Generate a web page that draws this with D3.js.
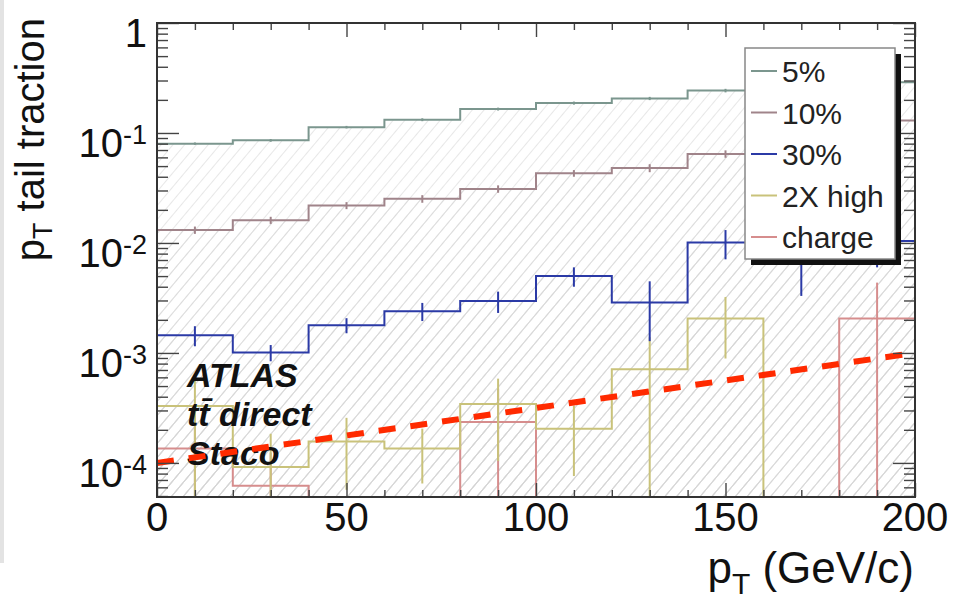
<!DOCTYPE html>
<html>
<head>
<meta charset="utf-8">
<script src="https://cdn.jsdelivr.net/npm/d3@7"></script>
<style>
  body { margin: 0; background: #fff; }
  text { font-family: "Liberation Sans", Arial, Helvetica, sans-serif; }
</style>
</head>
<body>
<div id="chart"></div>
<script>
// ---- data ----
const binEdges = [0, 20, 40, 60, 80, 100, 120, 140, 160, 180, 200]
const binCenters = [10, 30, 50, 70, 90, 110, 130, 150, 170, 190]

const seriesNames = ["5%", "10%", "30%", "2X high", "charge"]
const seriesColors = ["#7b968e", "#a0848a", "#2b3aa6", "#c9c27a", "#d68d8d"]

const pct5 = [0.080, 0.0857, 0.113, 0.132, 0.165, 0.187, 0.206, 0.243, 0.27, 0.29]
const pct5Err = [0.002, 0.0025, 0.003, 0.004, 0.005, 0.006, 0.007, 0.009, 0.011, 0.014]
const pct10 = [0.0131, 0.0161, 0.0219, 0.0252, 0.031, 0.043, 0.048, 0.0645, 0.09, 0.13]
const pct10Err = [0.001, 0.0012, 0.0016, 0.002, 0.0024, 0.003, 0.004, 0.005, 0.007, 0.009]
const pct30 = [0.00145, 0.00101, 0.00179, 0.0024, 0.00296, 0.0050, 0.00288, 0.0101, 0.0100, 0.0104]
const pct30Err = [0.0003, 0.00017, 0.00028, 0.00045, 0.00065, 0.001, 0.0016, 0.003, 0.0067, 0.0044]
const high2x = [0.00033, 0.000092, 0.000157, 0.000135, 0.000344, 0.000204, 0.00071, 0.00206, 0, 0]
const high2xErr = [0.00028, 0.000092, 0.0001, 0.00007, 0.00024, 0.000128, 0.00068, 0.00117, 0, 0]
const charge = [0.000135, 0.000062, 0, 0, 0.000235, 0, 0, 0, 0, 0.00206]
const chargeErr = [0.000135, 0.000062, 0, 0, 0.000235, 0, 0, 0, 0, 0.0023]

const fitLine = [[0, 1e-4], [200, 1e-3]]

const xMajor = [0, 50, 100, 150, 200]
const xMinor = [10, 20, 30, 40, 60, 70, 80, 90, 110, 120, 130, 140, 160, 170, 180, 190]
const yMajor = [1, 1e-1, 1e-2, 1e-3, 1e-4]
const yExponents = ["", "-1", "-2", "-3", "-4"]

const atlasLines = ["ATLAS", "tt\u0304 direct", "Staco"]

// ---- layout ----
const W = 954, H = 605
const frame = {left: 157, right: 915, top: 23, bottom: 497}
const yMin = 4.9e-5

const svg = d3.select("#chart").append("svg")
  .attr("width", W)
  .attr("height", H)

// grey strip of the screenshot at the left edge
svg.append("rect").attr("x", 0).attr("y", 0).attr("width", 4).attr("height", 563).attr("fill", "#e3e3e3")

const x = d3.scaleLinear().domain([0, 200]).range([frame.left, frame.right])
const y = d3.scaleLog().domain([yMin, 1]).range([frame.bottom, frame.top])
const yc = v => y(Math.max(v, yMin))

// hatch pattern
const defs = svg.append("defs")
const pat = defs.append("pattern")
  .attr("id", "hatch")
  .attr("patternUnits", "userSpaceOnUse")
  .attr("width", 9).attr("height", 9)
  .attr("patternTransform", "rotate(40)")
pat.append("line")
  .attr("x1", 0).attr("y1", 0).attr("x2", 0).attr("y2", 9)
  .attr("stroke", "#d2d2d2").attr("stroke-width", 1.1)

const series = [
  {vals: pct5, errs: pct5Err},
  {vals: pct10, errs: pct10Err},
  {vals: pct30, errs: pct30Err},
  {vals: high2x, errs: high2xErr},
  {vals: charge, errs: chargeErr}
].map((s, i) => ({...s, name: seriesNames[i], color: seriesColors[i]}))

const stepPoints = vals => binEdges.map((e, i) => [e, vals[Math.min(i, vals.length - 1)]])

const area = d3.area()
  .curve(d3.curveStepAfter)
  .x(d => x(d[0]))
  .y0(frame.bottom)
  .y1(d => yc(d[1]))

const line = d3.line()
  .curve(d3.curveStepAfter)
  .x(d => x(d[0]))
  .y(d => yc(d[1]))

const plot = svg.append("g")

// hatched fills
plot.selectAll("path.fill")
  .data(series)
  .enter().append("path")
  .attr("class", "fill")
  .attr("d", d => area(stepPoints(d.vals)))
  .attr("fill", "url(#hatch)")

// histogram outlines, drawn back to front
const order = [4, 3, 2, 1, 0]
order.forEach(i => {
  const s = series[i]
  const pts = stepPoints(s.vals)
  const g = plot.append("g")
  g.append("path")
    .attr("d", "M" + x(0) + "," + frame.bottom + "L" + line(pts).slice(1) + "L" + x(200) + "," + frame.bottom)
    .attr("fill", "none")
    .attr("stroke", s.color)
    .attr("stroke-width", 2)
  g.selectAll("line.err")
    .data(binCenters.map((c, j) => ({c, v: s.vals[j], e: s.errs[j]})).filter(d => d.v > 0))
    .enter().append("line")
    .attr("class", "err")
    .attr("x1", d => x(d.c)).attr("x2", d => x(d.c))
    .attr("y1", d => yc(d.v - d.e))
    .attr("y2", d => yc(d.v + d.e))
    .attr("stroke", s.color)
    .attr("stroke-width", 2)
})

// ATLAS label
svg.append("g")
  .selectAll("text")
  .data(atlasLines)
  .enter().append("text")
  .attr("x", 187)
  .attr("y", (d, i) => 387 + i * 39)
  .attr("font-size", 34)
  .attr("font-weight", "bold")
  .attr("font-style", "italic")
  .attr("fill", "#111")
  .text(d => d)

// dashed fit line
svg.append("path")
  .datum(fitLine)
  .attr("d", d3.line().x(d => x(d[0])).y(d => y(d[1])))
  .attr("fill", "none")
  .attr("stroke", "#ff2a00")
  .attr("stroke-width", 6)
  .attr("stroke-dasharray", "17,15")

// ticks (inward, mirrored on all sides)
const yMinor = y.ticks().filter(v => !yMajor.some(m => Math.abs(m - v) / m < 1e-6))
const addAxis = (axis, tx, ty) => svg.append("g")
  .attr("transform", `translate(${tx},${ty})`)
  .call(axis.tickFormat(""))
  .call(g => g.select(".domain").remove())
  .call(g => g.selectAll(".tick line").attr("stroke", "#444").attr("stroke-width", 1.4))

addAxis(d3.axisBottom(x).tickValues(xMajor).tickSize(-14), 0, frame.bottom)
addAxis(d3.axisBottom(x).tickValues(xMinor).tickSize(-7), 0, frame.bottom)
addAxis(d3.axisTop(x).tickValues(xMajor).tickSize(-14), 0, frame.top)
addAxis(d3.axisTop(x).tickValues(xMinor).tickSize(-7), 0, frame.top)
addAxis(d3.axisLeft(y).tickValues(yMajor).tickSize(-22), frame.left, 0)
addAxis(d3.axisLeft(y).tickValues(yMinor).tickSize(-11), frame.left, 0)
addAxis(d3.axisRight(y).tickValues(yMajor).tickSize(-22), frame.right, 0)
addAxis(d3.axisRight(y).tickValues(yMinor).tickSize(-11), frame.right, 0)

// frame
svg.append("rect")
  .attr("x", frame.left).attr("y", frame.top)
  .attr("width", frame.right - frame.left)
  .attr("height", frame.bottom - frame.top)
  .attr("fill", "none")
  .attr("stroke", "#333")
  .attr("stroke-width", 2)

// legend
const leg = svg.append("g")
leg.append("rect").attr("x", 751).attr("y", 54).attr("width", 150).attr("height", 211).attr("fill", "#111")
leg.append("rect").attr("x", 745).attr("y", 48).attr("width", 150).attr("height", 211)
  .attr("fill", "#fff").attr("stroke", "#888").attr("stroke-width", 1.5)
const items = leg.selectAll("g.item")
  .data(series)
  .enter().append("g")
  .attr("class", "item")
  .attr("transform", (d, i) => `translate(0,${82 + i * 41.5})`)
items.append("line")
  .attr("x1", 751).attr("x2", 777)
  .attr("y1", -11).attr("y2", -11)
  .attr("stroke", d => d.color)
  .attr("stroke-width", 2)
items.append("text")
  .attr("x", 782)
  .attr("font-size", 30)
  .attr("fill", "#222")
  .text(d => d.name)

// y tick labels
yMajor.forEach((v, i) => {
  const t = svg.append("text")
    .attr("x", 147)
    .attr("y", y(v) + 24)
    .attr("text-anchor", "end")
    .attr("font-size", 40)
    .attr("fill", "#111")
  if (yExponents[i] === "") {
    t.text("1")
  } else {
    t.append("tspan").text("10")
    t.append("tspan").attr("dy", -13).attr("font-size", 27).text(yExponents[i])
  }
})

// x tick labels
svg.selectAll("text.xlab")
  .data(xMajor)
  .enter().append("text")
  .attr("class", "xlab")
  .attr("x", d => x(d))
  .attr("y", 531)
  .attr("text-anchor", "middle")
  .attr("font-size", 40)
  .attr("fill", "#111")
  .text(d => d)

// x axis title
const xt = svg.append("text")
  .attr("x", 914)
  .attr("y", 583)
  .attr("text-anchor", "end")
  .attr("font-size", 44)
  .attr("fill", "#111")
xt.append("tspan").text("p")
xt.append("tspan").attr("dy", 11).attr("font-size", 30).text("T")
xt.append("tspan").attr("dy", -11).text(" (GeV/c)")

// y axis title
const ytt = svg.append("text")
  .attr("transform", "translate(44,18) rotate(-90)")
  .attr("text-anchor", "end")
  .attr("font-size", 40)
  .attr("fill", "#111")
ytt.append("tspan").text("p")
ytt.append("tspan").attr("dy", 8).attr("font-size", 27).text("T")
ytt.append("tspan").attr("dy", -8).text(" tail traction")
</script>
</body>
</html>
